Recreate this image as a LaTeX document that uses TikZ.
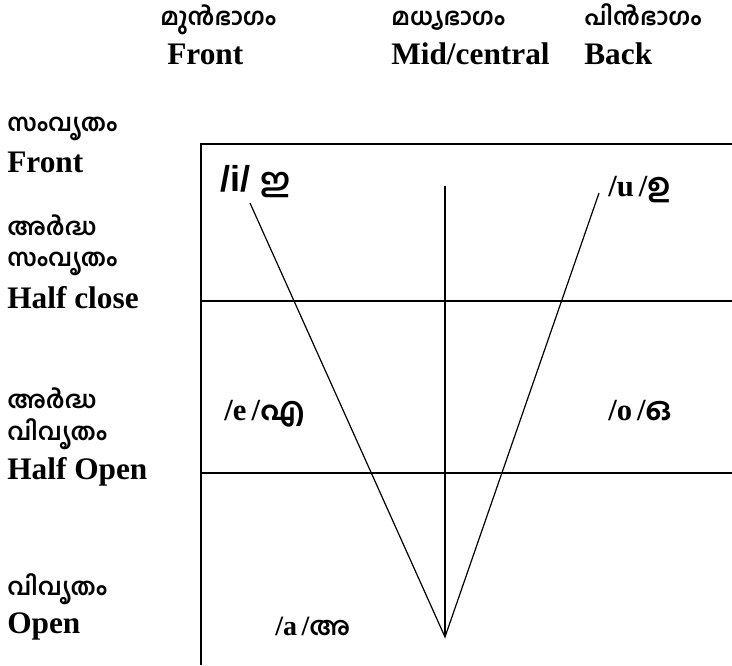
\documentclass[tikz,border=0pt]{standalone}
\usepackage{fontspec}
\setmainfont{Liberation Serif}
\newfontfamily\mlfont[Script=Malayalam]{Hind Kochi}
\newfontfamily\ipasans{Liberation Sans}

\begin{document}
\begin{tikzpicture}[x=0.75pt, y=-0.75pt,
  en/.style={anchor=base west, inner sep=0pt, text height=15pt, font=\fontsize{23.5}{26}\selectfont\bfseries},
  mal/.style={anchor=base west, inner sep=0pt, text depth=0pt, font=\fontsize{18}{20}\mlfont\bfseries},
  vow/.style={anchor=base west, inner sep=0pt, font=\fontsize{23}{26}\selectfont\bfseries}]
  \useasboundingbox (0,0) rectangle (732,665);

  % column heads
  \node[mal] (frontml) at (160,25) {മുൻഭാഗം};
  \node[en]  (fronten) at (167,64) {Front};
  \node[mal] (midml)   at (391,25) {മധ്യഭാഗം};
  \node[en]  (miden)   at (391,64) {Mid/central};
  \node[mal] (backml)  at (584,25) {പിൻഭാഗം};
  \node[en]  (backen)  at (584,64) {Back};

  % row heads
  \node[mal] (closeml)     at (7,131) {സംവൃതം};
  \node[en]  (closeen)     at (7,172) {Front};
  \node[mal] (hcloseml)    at (7,235) {അർദ്ധ};
  \node[mal] (hcloseml2)   at (7,266) {സംവൃതം};
  \node[en]  (hcloseen)    at (7,308) {Half close};
  \node[mal] (hopenml)     at (7,408) {അർദ്ധ};
  \node[mal] (hopenml2)    at (7,440) {വിവൃതം};
  \node[en]  (hopenen)     at (7,479) {Half Open};
  \node[mal] (openml)      at (7,595) {വിവൃതം};
  \node[en]  (openen)      at (7,633) {Open};

  % grid
  \draw[line width=1pt] (732,144) -- (201,144) -- (201,665);
  \draw[line width=1pt] (201,301) -- (732,301);
  \draw[line width=1pt] (201,473) -- (732,473);
  \draw[line width=1.4pt] (445,186) -- (445,637);

  % vowel triangle
  \coordinate (itop) at (250,203);
  \coordinate (utop) at (599,193);
  \coordinate (apex) at (445,637);
  \draw[line width=0.9pt] (itop) -- (apex) -- (utop);

  \node[vow, font=\fontsize{27}{29}\ipasans\bfseries] (i) at (220,191) {/i/ {\mlfont\fontsize{24}{26}\selectfont ഇ}};
  \node[vow] (u) at (608,196) {/u\,/{\mlfont\fontsize{24}{26}\selectfont ഉ}};
  \node[vow] (e) at (224,420) {/e\,/{\mlfont\fontsize{24}{26}\selectfont എ}};
  \node[vow] (o) at (608,420) {/o\,/{\mlfont\fontsize{24}{26}\selectfont ഒ}};
  \node[vow, font=\fontsize{21}{23}\selectfont\bfseries] (a) at (275,635) {/a\,/{\mlfont\fontsize{19}{21}\selectfont അ}};
\end{tikzpicture}
\end{document}
